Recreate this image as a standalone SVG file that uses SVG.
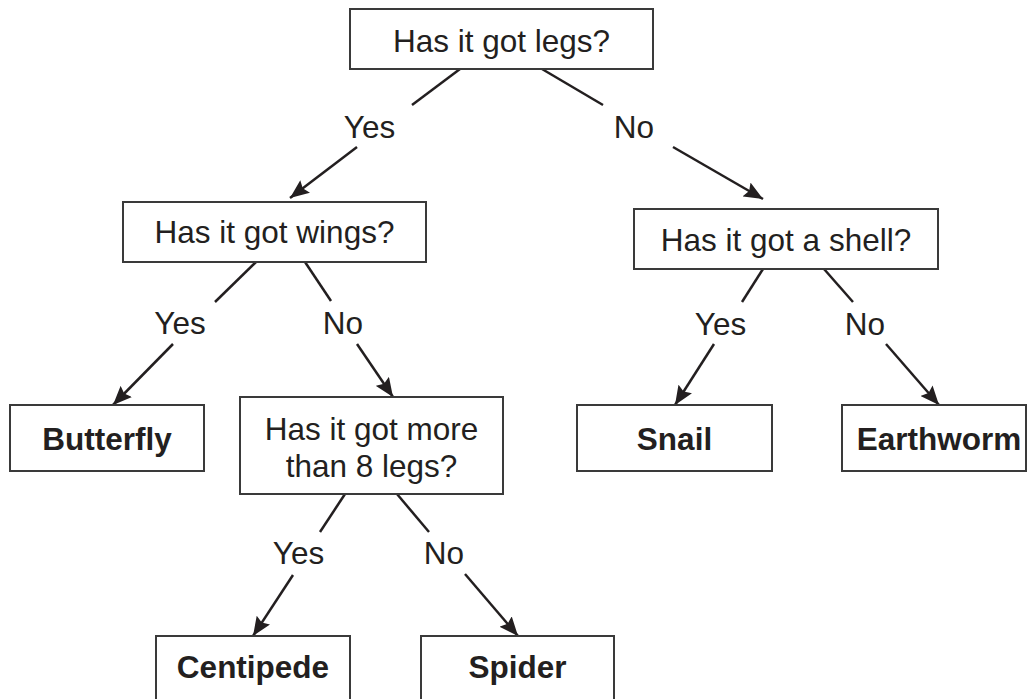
<svg xmlns="http://www.w3.org/2000/svg" width="1028" height="699" viewBox="0 0 1028 699">
<style>
.box{fill:#fff;stroke:#3a3a3a;stroke-width:2}
.t{font-family:"Liberation Sans",Arial,sans-serif;font-size:31.5px;fill:#231f20;text-anchor:middle}
.b{font-weight:bold}
.ln{stroke:#231f20;stroke-width:2.5;fill:none}
.ar{marker-end:url(#ah)}
</style>
<defs>
<marker id="ah" markerUnits="userSpaceOnUse" markerWidth="20" markerHeight="16" refX="19" refY="8" orient="auto">
<path d="M0,0 L19,8 L0,16 L3,8 z" fill="#231f20"/>
</marker>
</defs>
<rect width="1028" height="699" fill="#fff"/>
<g id="connectors">
<line class="ln" x1="460" y1="69" x2="412" y2="105"/>
<text class="t" x="369.5" y="138">Yes</text>
<line class="ln ar" x1="357" y1="147" x2="290" y2="198"/>
<line class="ln" x1="542" y1="69" x2="603" y2="105"/>
<text class="t" x="634" y="138">No</text>
<line class="ln ar" x1="673" y1="147" x2="763" y2="199"/>
<line class="ln" x1="256" y1="262" x2="215" y2="302"/>
<text class="t" x="180" y="334">Yes</text>
<line class="ln ar" x1="173" y1="344" x2="113" y2="405"/>
<line class="ln" x1="305" y1="262" x2="331" y2="301"/>
<text class="t" x="343" y="334">No</text>
<line class="ln ar" x1="357" y1="344" x2="393" y2="397"/>
<line class="ln" x1="763" y1="269" x2="742" y2="302"/>
<text class="t" x="720.5" y="335">Yes</text>
<line class="ln ar" x1="714" y1="344" x2="675" y2="405"/>
<line class="ln" x1="824" y1="269" x2="853" y2="302"/>
<text class="t" x="865" y="335">No</text>
<line class="ln ar" x1="886" y1="344" x2="939" y2="405"/>
<line class="ln" x1="345" y1="494" x2="320" y2="532"/>
<text class="t" x="298.5" y="564">Yes</text>
<line class="ln ar" x1="293" y1="575" x2="253" y2="636"/>
<line class="ln" x1="397" y1="494" x2="429" y2="532"/>
<text class="t" x="444" y="564">No</text>
<line class="ln ar" x1="465" y1="574" x2="518" y2="636"/>
</g>
<g id="legs">
<rect class="box" x="350" y="9" width="303" height="60"/>
<text class="t" x="501.5" y="52">Has it got legs?</text>
</g>
<g id="wings">
<rect class="box" x="123" y="202" width="303" height="60"/>
<text class="t" x="274.5" y="243">Has it got wings?</text>
</g>
<g id="shell">
<rect class="box" x="634" y="209" width="304" height="60"/>
<text class="t" x="786" y="251">Has it got a shell?</text>
</g>
<g id="butterfly">
<rect class="box" x="10" y="405" width="194" height="66"/>
<text class="t b" x="107" y="450">Butterfly</text>
</g>
<g id="morelegs">
<rect class="box" x="240" y="397" width="263" height="97"/>
<text class="t" x="371.5" y="440">Has it got more</text>
<text class="t" x="371.5" y="477">than 8 legs?</text>
</g>
<g id="snail">
<rect class="box" x="577" y="405" width="195" height="66"/>
<text class="t b" x="674.5" y="450">Snail</text>
</g>
<g id="earthworm">
<rect class="box" x="842" y="405" width="184" height="66"/>
<text class="t b" x="939" y="450">Earthworm</text>
</g>
<g id="centipede">
<rect class="box" x="156" y="636" width="194" height="70"/>
<text class="t b" x="253" y="678">Centipede</text>
</g>
<g id="spider">
<rect class="box" x="421" y="636" width="193" height="70"/>
<text class="t b" x="517.5" y="678">Spider</text>
</g>
</svg>
